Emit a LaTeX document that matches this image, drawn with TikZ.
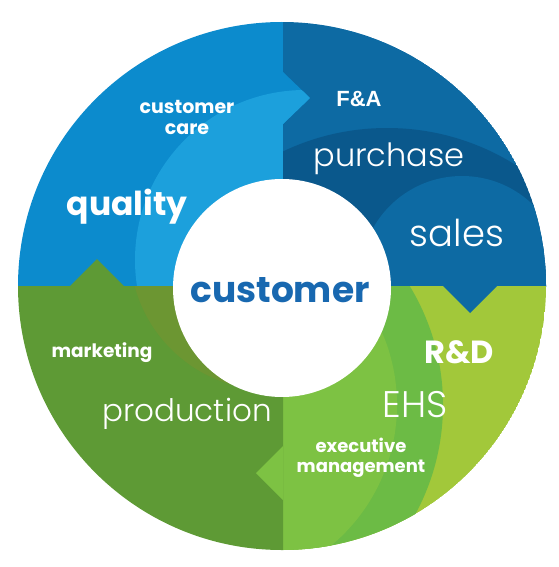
\documentclass[tikz,border=0pt]{standalone}
\usepackage{fontspec}
\setmainfont{Poppins}
\IfFontExistsTF{Poppins Light}{\newfontfamily\thinfont{Poppins Light}}{\newfontfamily\thinfont{Poppins}}
\newfontfamily\arialfont{Liberation Sans}
\usetikzlibrary{positioning}

\definecolor{tlbase}{RGB}{12,139,205}
\definecolor{tllight}{RGB}{28,160,220}
\definecolor{trbase}{RGB}{13,106,163}
\definecolor{trdark}{RGB}{10,88,140}
\definecolor{brouter}{RGB}{162,200,58}
\definecolor{brband}{RGB}{108,187,69}
\definecolor{brinner}{RGB}{125,194,67}
\definecolor{blbase}{RGB}{94,154,53}
\definecolor{blolive}{RGB}{108,150,50}
\definecolor{custblue}{RGB}{24,104,176}

\tikzset{boldlbl/.style={text=white,font=\bfseries,align=center,inner sep=0pt}}
\tikzset{thinlbl/.style={text=white,font=\thinfont,inner sep=0pt}}

\begin{document}
\begin{tikzpicture}[x=1pt,y=-1pt]
  \useasboundingbox (0,0) rectangle (558,567);
  \coordinate (c) at (282,286);

  % the four quarters
  \begin{scope}
    \clip (c) circle (264pt);
    \begin{scope}
      \clip (0,0) rectangle (283,286);
      \fill[tlbase] (c) circle (264pt);
      \fill[tllight] (305,260) circle (170pt);
    \end{scope}
    \begin{scope}
      \clip (283,0) rectangle (558,286);
      \fill[trbase] (c) circle (264pt);
      \fill[trdark] (387,370) circle (242pt);
      \fill[trbase] (462,278) circle (102pt);
    \end{scope}
    \begin{scope}
      \clip (283,286) rectangle (558,567);
      \fill[brouter] (c) circle (264pt);
      \fill[brband] (214,405) circle (229pt);
      \fill[brinner] (214,405) circle (183pt);
    \end{scope}
    \begin{scope}
      \clip (0,286) rectangle (283,567);
      \fill[blbase] (c) circle (264pt);
      \fill[blolive] (270,250) circle (140pt);
    \end{scope}
  \end{scope}

  % arrow tips
  \begin{scope}
    \clip (283,72) -- (310,98) -- (283,124) -- cycle;
    \fill[tlbase] (c) circle (264pt);
    \fill[tllight] (305,260) circle (170pt);
  \end{scope}
  \fill[trbase] (443,286) -- (470,313) -- (497,286) -- cycle;
  \fill[brinner] (283,446) -- (256,473) -- (283,500) -- cycle;
  \fill[blbase] (70,286) -- (97,259) -- (124,286) -- cycle;

  \fill[white] (282,288) circle (109pt);

  % labels
  \node[text=custblue,font=\bfseries\fontsize{36}{40}\selectfont,inner sep=0pt] (cust) at (280,290) {customer};
  \node[boldlbl,font=\bfseries\fontsize{19}{21}\selectfont] (care) at (187,117) {customer\\care};
  \node[boldlbl,font=\bfseries\fontsize{33}{36}\selectfont] (qual) at (127,207) {quality};
  \node[boldlbl,font=\arialfont\bfseries\fontsize{22}{26}\selectfont] (fa) at (359,99) {F\&A};
  \node[thinlbl,font=\thinfont\fontsize{32}{36}\selectfont] (purch) at (389,159) {purchase};
  \node[thinlbl,font=\thinfont\fontsize{37}{40}\selectfont] (sales) at (457,233) {sales};
  \node[boldlbl,font=\bfseries\fontsize{18.5}{21}\selectfont] (mkt) at (102,353) {marketing};
  \node[thinlbl,font=\thinfont\fontsize{31}{35}\selectfont] (prod) at (187,414) {production};
  \node[boldlbl,font=\bfseries\fontsize{32}{36}\selectfont] (rd) at (459,352) {R\&D};
  \node[thinlbl,font=\thinfont\fontsize{37}{40}\selectfont] (ehs) at (415,405) {EHS};
  \node[boldlbl,font=\bfseries\fontsize{18}{20}\selectfont] (exec) at (361,458) {executive\\management};
\end{tikzpicture}
\end{document}
